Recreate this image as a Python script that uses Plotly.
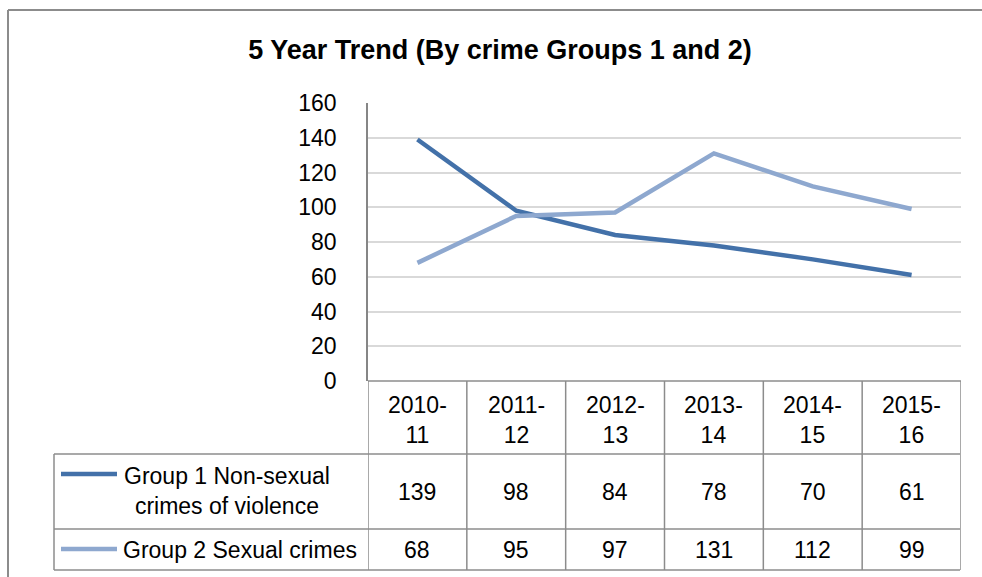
import plotly.graph_objects as go

# ---- data ----
periods = ["2010-11", "2011-12", "2012-13", "2013-14", "2014-15", "2015-16"]
series_names = ["Group 1 Non-sexual crimes of violence", "Group 2 Sexual crimes"]
group1 = [139, 98, 84, 78, 70, 61]
group2 = [68, 95, 97, 131, 112, 99]
y_ticks = [0, 20, 40, 60, 80, 100, 120, 140, 160]

# ---- style ----
W, H = 982, 577
FONT = "Liberation Sans, Arial, sans-serif"
DARK = "#4371a9"
LIGHT = "#8ea8cf"
GRID = "#d9d9d9"
TABLE_LINE = "#8c8c8c"


def px(x):
    return x / W


def py(y):
    return 1 - y / H


# plot area in pixels
PL, PR, PT, PB = 368, 961, 103, 381
# table rows (pixel y)
ROW_HEAD_BOTTOM, ROW1_BOTTOM, ROW2_BOTTOM = 454, 529, 570
TABLE_LEFT = 54

fig = go.Figure()
xs = list(range(len(periods)))
fig.add_trace(go.Scatter(x=xs, y=group1, mode="lines", name=series_names[0],
                         line=dict(color=DARK, width=4.5), hoverinfo="y"))
fig.add_trace(go.Scatter(x=xs, y=group2, mode="lines", name=series_names[1],
                         line=dict(color=LIGHT, width=4.5), hoverinfo="y"))

shapes = []
annotations = []

# outer chart frame (top and left edges visible)
shapes.append(dict(type="line", xref="paper", yref="paper", x0=px(8), x1=1.0,
                   y0=py(10), y1=py(10), line=dict(color=TABLE_LINE, width=2)))
shapes.append(dict(type="line", xref="paper", yref="paper", x0=px(8), x1=px(8),
                   y0=py(10), y1=0.0, line=dict(color=TABLE_LINE, width=2)))

# data table: vertical column lines
n = len(periods)
for i in range(n + 1):
    shapes.append(dict(type="line", xref="x", yref="paper", x0=i - 0.5, x1=i - 0.5,
                       y0=py(PB), y1=py(ROW2_BOTTOM),
                       line=dict(color=TABLE_LINE, width=1.5)))
# header top line (category axis)
shapes.append(dict(type="line", xref="x", yref="paper", x0=-0.5, x1=n - 0.5,
                   y0=py(PB), y1=py(PB), line=dict(color=TABLE_LINE, width=1.5)))
# row lines spanning legend column too
for yb in (ROW_HEAD_BOTTOM, ROW1_BOTTOM, ROW2_BOTTOM):
    shapes.append(dict(type="line", xref="paper", yref="paper", x0=px(TABLE_LEFT),
                       x1=px(PR - 1), y0=py(yb), y1=py(yb),
                       line=dict(color=TABLE_LINE, width=1.5)))
shapes.append(dict(type="line", xref="paper", yref="paper", x0=px(TABLE_LEFT),
                   x1=px(TABLE_LEFT), y0=py(ROW_HEAD_BOTTOM), y1=py(ROW2_BOTTOM),
                   line=dict(color=TABLE_LINE, width=1.5)))

# legend keys
for color, ky in ((DARK, 474), (LIGHT, 549)):
    shapes.append(dict(type="line", xref="paper", yref="paper", x0=px(61), x1=px(117),
                       y0=py(ky), y1=py(ky), line=dict(color=color, width=4.5)))

TXT = dict(family=FONT, size=23, color="#000000")

# header cells and values
for i, p in enumerate(periods):
    a, b = p.split("-")
    annotations.append(dict(x=i, y=py(420), xref="x", yref="paper",
                            text=f"{a}-<br>{b}", showarrow=False, font=TXT,
                            xanchor="center", yanchor="middle"))
    annotations.append(dict(x=i, y=py(492), xref="x", yref="paper",
                            text=str(group1[i]), showarrow=False, font=TXT,
                            xanchor="center", yanchor="middle"))
    annotations.append(dict(x=i, y=py(550), xref="x", yref="paper",
                            text=str(group2[i]), showarrow=False, font=TXT,
                            xanchor="center", yanchor="middle"))

# series labels in table
annotations.append(dict(x=px(227), y=py(491), xref="paper", yref="paper",
                        text="Group 1 Non-sexual<br>crimes of violence", showarrow=False,
                        font=TXT, xanchor="center", yanchor="middle", align="center"))
annotations.append(dict(x=px(240), y=py(550), xref="paper", yref="paper",
                        text=series_names[1], showarrow=False,
                        font=TXT, xanchor="center", yanchor="middle"))

fig.update_layout(
    width=W, height=H,
    margin=dict(l=0, r=0, t=0, b=0, pad=0),
    paper_bgcolor="white", plot_bgcolor="white",
    showlegend=False,
    title=dict(text="<b>5 Year Trend (By crime Groups 1 and 2)</b>",
               x=px(500), y=py(50), xanchor="center", yanchor="middle",
               font=dict(family=FONT, size=27, color="#000000")),
    xaxis=dict(domain=[px(PL), px(PR)], range=[-0.5, n - 0.5],
               showticklabels=False, showgrid=False, zeroline=False,
               showline=False, fixedrange=True, automargin=False),
    yaxis=dict(domain=[py(PB), py(PT)], range=[0, 160],
               tickvals=y_ticks, ticktext=[str(v) for v in y_ticks],
               showgrid=True, gridcolor=GRID, gridwidth=1.5,
               zeroline=False, showline=True, linecolor="#868686", linewidth=1.5,
               ticks="", ticklabelstandoff=25, automargin=False,
               tickfont=dict(family=FONT, size=23, color="#000000"),
               fixedrange=True),
    shapes=shapes,
    annotations=annotations,
)

fig.write_html("out.html")
